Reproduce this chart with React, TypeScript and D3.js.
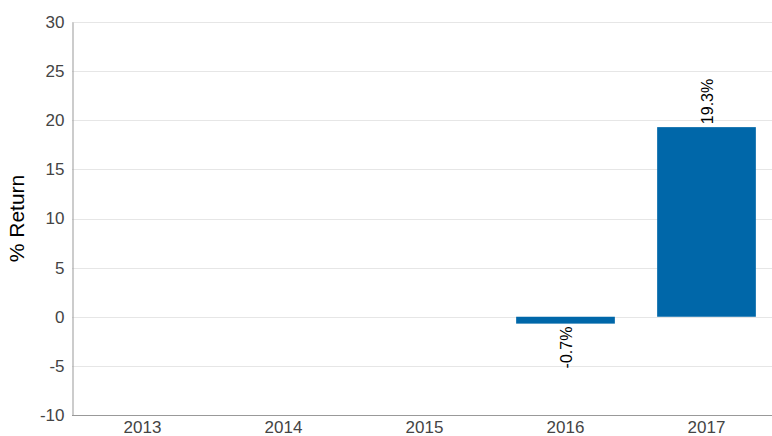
import { useEffect, useRef } from "react";
import * as d3 from "d3";

const years = ["2013", "2014", "2015", "2016", "2017"];
const returns: (number | null)[] = [null, null, null, -0.7, 19.3];
const yTicks = [-10, -5, 0, 5, 10, 15, 20, 25, 30];

const width = 772;
const height = 436;
const barColor = "#0067a9";
const font = "'Liberation Sans', Arial, sans-serif";

export default function App() {
	const ref = useRef<SVGSVGElement>(null);

	useEffect(() => {
		if (!ref.current) return;
		const svg = d3.select(ref.current);
		svg.selectAll("*").remove();

		const margin = { top: 22, right: -5, bottom: 21, left: 72 };

		const x = d3
			.scaleBand()
			.domain(years)
			.range([margin.left, width - margin.right])
			.paddingInner(0.3)
			.paddingOuter(0.15);

		const y = d3
			.scaleLinear()
			.domain([-10, 30])
			.range([height - margin.bottom, margin.top]);

		// gridlines
		svg
			.append("g")
			.selectAll("line")
			.data(yTicks.filter((t) => t !== -10))
			.join("line")
			.attr("x1", margin.left)
			.attr("x2", width)
			.attr("y1", (d) => Math.round(y(d)) + 0.5)
			.attr("y2", (d) => Math.round(y(d)) + 0.5)
			.attr("stroke", "#e6e6e6")
			.attr("stroke-width", 1);

		// bars
		const data = years.map((yr, i) => ({ year: yr, value: returns[i] })).filter((d) => d.value !== null) as {
			year: string;
			value: number;
		}[];

		svg
			.append("g")
			.selectAll("rect")
			.data(data)
			.join("rect")
			.attr("x", (d) => x(d.year) ?? 0)
			.attr("width", x.bandwidth())
			.attr("y", (d) => y(Math.max(0, d.value)))
			.attr("height", (d) => Math.abs(y(d.value) - y(0)))
			.attr("fill", barColor);

		// value labels
		svg
			.append("g")
			.selectAll("text")
			.data(data)
			.join("text")
			.attr("transform", (d) => {
				const cx = (x(d.year) ?? 0) + x.bandwidth() / 2 + 1;
				const cy = d.value >= 0 ? y(d.value) - 3 : y(d.value) + 3;
				return `translate(${cx},${cy}) rotate(-90)`;
			})
			.attr("text-anchor", (d) => (d.value >= 0 ? "start" : "end"))
			.attr("dy", "0.35em")
			.attr("font-family", font)
			.attr("font-size", 16)
			.attr("fill", "#000")
			.text((d) => `${d.value.toFixed(1)}%`);

		// y axis
		const yAxis = svg
			.append("g")
			.attr("transform", `translate(${margin.left + 0.5},0)`)
			.call(
				d3
					.axisLeft(y)
					.tickValues(yTicks)
					.tickSize(0)
					.tickPadding(8)
					.tickFormat((d) => String(d))
			);
		yAxis.select(".domain").attr("stroke", "#999");
		yAxis
			.selectAll("text")
			.attr("font-family", font)
			.attr("font-size", 17)
			.attr("fill", "#444");

		// x axis
		const xAxis = svg
			.append("g")
			.attr("transform", `translate(0,${Math.round(y(-10)) + 0.5})`)
			.call(d3.axisBottom(x).tickSize(0).tickPadding(5));
		xAxis.select(".domain").remove();
		xAxis
			.append("line")
			.attr("x1", margin.left)
			.attr("x2", width)
			.attr("stroke", "#999");
		xAxis
			.selectAll("text")
			.attr("font-family", font)
			.attr("font-size", 17)
			.attr("fill", "#444");

		// y title
		svg
			.append("text")
			.attr("transform", `translate(24,${(margin.top + height - margin.bottom) / 2}) rotate(-90)`)
			.attr("text-anchor", "middle")
			.attr("font-family", font)
			.attr("font-size", 21)
			.attr("fill", "#000")
			.text("% Return");
	}, []);

	return (
		<svg
			ref={ref}
			width={width}
			height={height}
			style={{ position: "absolute", left: 0, top: 0, display: "block", background: "#fff" }}
		/>
	);
}
